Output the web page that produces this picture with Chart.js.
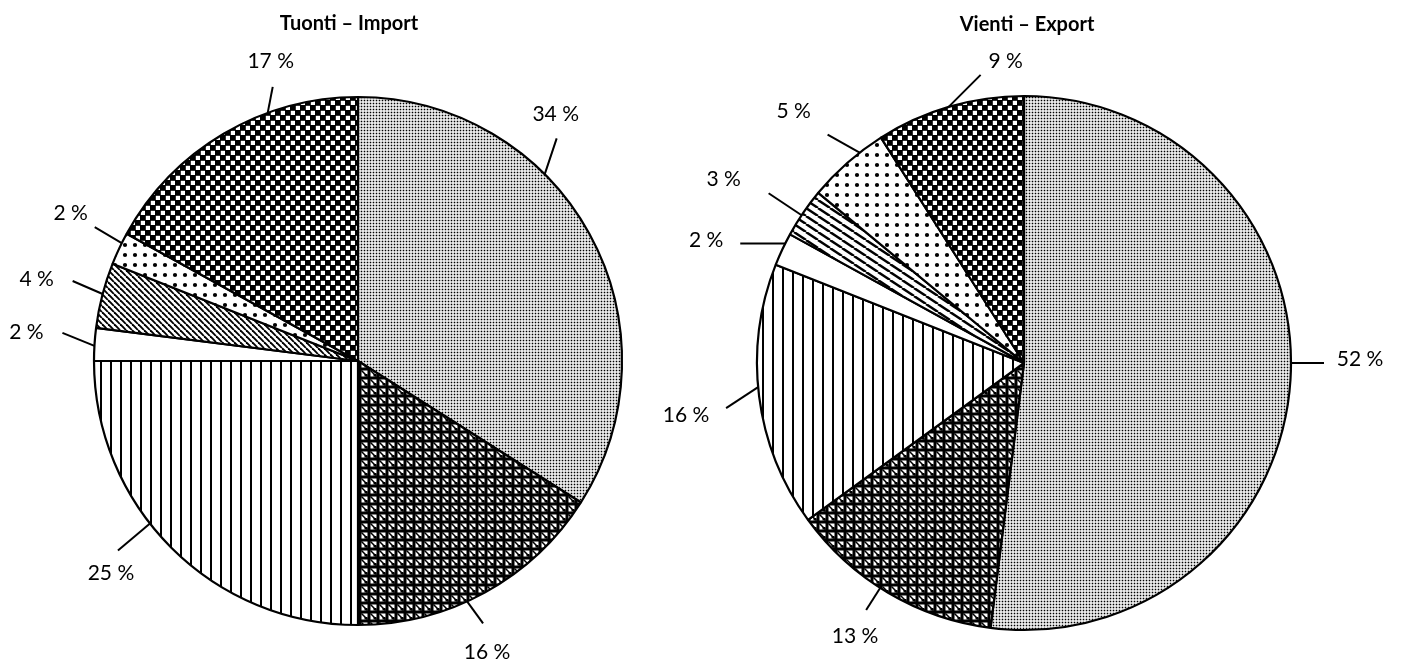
<!DOCTYPE html>
<html>
<head>
<meta charset="utf-8">
<script src="https://cdn.jsdelivr.net/npm/chart.js@4.4.0/dist/chart.umd.min.js"></script>
<style>
    html, body { margin: 0; padding: 0; background: #fff; }
    #wrap { position: relative; width: 1404px; height: 663px; overflow: hidden; background: #fff; }
    canvas { position: absolute; top: 0; }
</style>
</head>
<body>
<div id="wrap">
    <canvas id="importChart" width="702" height="663" style="left:0;width:702px;height:663px"></canvas>
    <canvas id="exportChart" width="802" height="663" style="left:602px;width:802px;height:663px"></canvas>
</div>
<script>
// slice categories are only told apart by their fill pattern
const importCategories = ['stipple', 'cross', 'vlines', 'white', 'hatch', 'dots', 'checker'];
const importValues = [34, 16, 25, 2, 4, 2, 17];

const exportCategories = ['stipple', 'cross', 'vlines', 'white', 'hatchFlat', 'dots', 'checker'];
const exportValues = [52, 13, 16, 2, 3, 5, 9];

// label layout: [anchor angle on rim (deg from top), leader dx, leader dy, text dx, text dy]
const importLeaders = [
    [45, 12, -36, -1, -25],
    [155.6, 16, 22, 4, 28],
    [232, -32, 27, -7, 22],
    [273.3, -32, -13, -36, -1],
    [284.7, -30, -13, -36, -3],
    [296.5, -27, -16, -24, -15],
    [340, 5, -26, -2, -26]
];
const exportLeaders = [
    [90, 33, 0, 36, -5],
    [212.6, -14, 22, -11, 26],
    [264.8, -32, 21, -40, 6],
    [296.6, -45, 0, -34, -4],
    [303.6, -33, -22, -45, -15],
    [322, -32, -18, -34, -24],
    [343.6, 32, -32, 25, -14]
];

function makePattern(kind) {
    const c = document.createElement('canvas');
    let ctx;
    const tile = (w, h, bg) => {
        c.width = w; c.height = h;
        ctx = c.getContext('2d');
        ctx.fillStyle = bg;
        ctx.fillRect(0, 0, w, h);
        ctx.fillStyle = '#000';
        ctx.strokeStyle = '#000';
    };
    switch (kind) {
        case 'stipple':
            tile(3, 3, '#fff');
            ctx.fillRect(0.7, 0.7, 1.6, 1.6);
            break;
        case 'cross':
            tile(9, 9, '#000');
            ctx.fillStyle = '#fff';
            ctx.fillRect(1.5, 1.5, 6, 6);
            ctx.fillStyle = '#000';
            ctx.lineWidth = 1.5;
            ctx.beginPath(); ctx.moveTo(1.5, 1.5); ctx.lineTo(7.5, 7.5); ctx.stroke();
            ctx.fillRect(4.5, 5, 3, 2.5);
            break;
        case 'checker':
            tile(10, 10, '#000');
            ctx.fillStyle = '#fff';
            ctx.fillRect(0.8, 0.8, 4.2, 4.2);
            ctx.fillRect(5.8, 5.8, 4.2, 4.2);
            break;
        case 'vlines':
            tile(10, 10, '#fff');
            ctx.fillRect(0, 0, 2, 10);
            break;
        case 'hatch':
            tile(6, 6, '#fff');
            ctx.lineWidth = 1.9;
            for (let k = -1; k <= 1; k++) {
                ctx.beginPath(); ctx.moveTo(k * 6, 0); ctx.lineTo(k * 6 + 6, 6); ctx.stroke();
            }
            break;
        case 'hatchFlat':
            tile(12, 8, '#fff');
            ctx.lineWidth = 2.4;
            for (let k = -1; k <= 1; k++) {
                ctx.beginPath(); ctx.moveTo(k * 12, 0); ctx.lineTo(k * 12 + 12, 8); ctx.stroke();
            }
            break;
        case 'dots':
            tile(10, 10, '#fff');
            ctx.beginPath(); ctx.arc(5, 5, 2.1, 0, Math.PI * 2); ctx.fill();
            break;
        default:
            tile(4, 4, '#fff');
    }
    return ctx.createPattern(c, 'repeat');
}

const leaderPlugin = {
    id: 'leaders',
    afterDatasetsDraw(chart, args, opts) {
        const meta = chart.getDatasetMeta(0);
        const values = chart.data.datasets[0].data;
        const ctx = chart.ctx;
        ctx.save();
        ctx.strokeStyle = '#000';
        ctx.fillStyle = '#000';
        ctx.lineWidth = 2;
        ctx.textAlign = 'center';
        ctx.textBaseline = 'alphabetic';
        ctx.font = '21px Lato';
        meta.data.forEach((arc, i) => {
            const [deg, lx, ly, tx, ty] = opts.layout[i];
            const a = deg * Math.PI / 180;
            const x0 = arc.x + arc.outerRadius * Math.sin(a);
            const y0 = arc.y - arc.outerRadius * Math.cos(a);
            const x1 = x0 + lx, y1 = y0 + ly;
            ctx.beginPath();
            ctx.moveTo(x0, y0);
            ctx.lineTo(x1, y1);
            ctx.stroke();
            ctx.fillText(values[i] + ' %', x1 + tx, y1 + ty + 7.5);
        });
        const first = meta.data[0];
        ctx.font = 'bold 20px Lato';
        ctx.fillText(opts.title, first.x + opts.titleDx, opts.titleY);
        ctx.restore();
    }
};

function pieChart(id, categories, values, leaders, title, titleDx, titleY, radius, padding) {
    return new Chart(document.getElementById(id), {
        type: 'pie',
        data: {
            labels: categories,
            datasets: [{
                data: values,
                backgroundColor: categories.map(makePattern),
                borderColor: '#000',
                borderWidth: 2.2,
                hoverOffset: 0,
                radius: radius
            }]
        },
        options: {
            responsive: false,
            animation: false,
            events: [],
            layout: { padding: padding },
            plugins: {
                legend: { display: false },
                tooltip: { enabled: false },
                leaders: { layout: leaders, title: title, titleDx: titleDx, titleY: titleY }
            }
        },
        plugins: [leaderPlugin]
    });
}

pieChart('importChart', importCategories, importValues, importLeaders,
    'Tuonti \u2013 Import', -9, 30, 264, { left: 14, right: 0, top: 59, bottom: 0 });
pieChart('exportChart', exportCategories, exportValues, exportLeaders,
    'Vienti \u2013 Export', 3, 31, 267, { left: 42, right: 0, top: 63, bottom: 0 });
</script>
</body>
</html>
